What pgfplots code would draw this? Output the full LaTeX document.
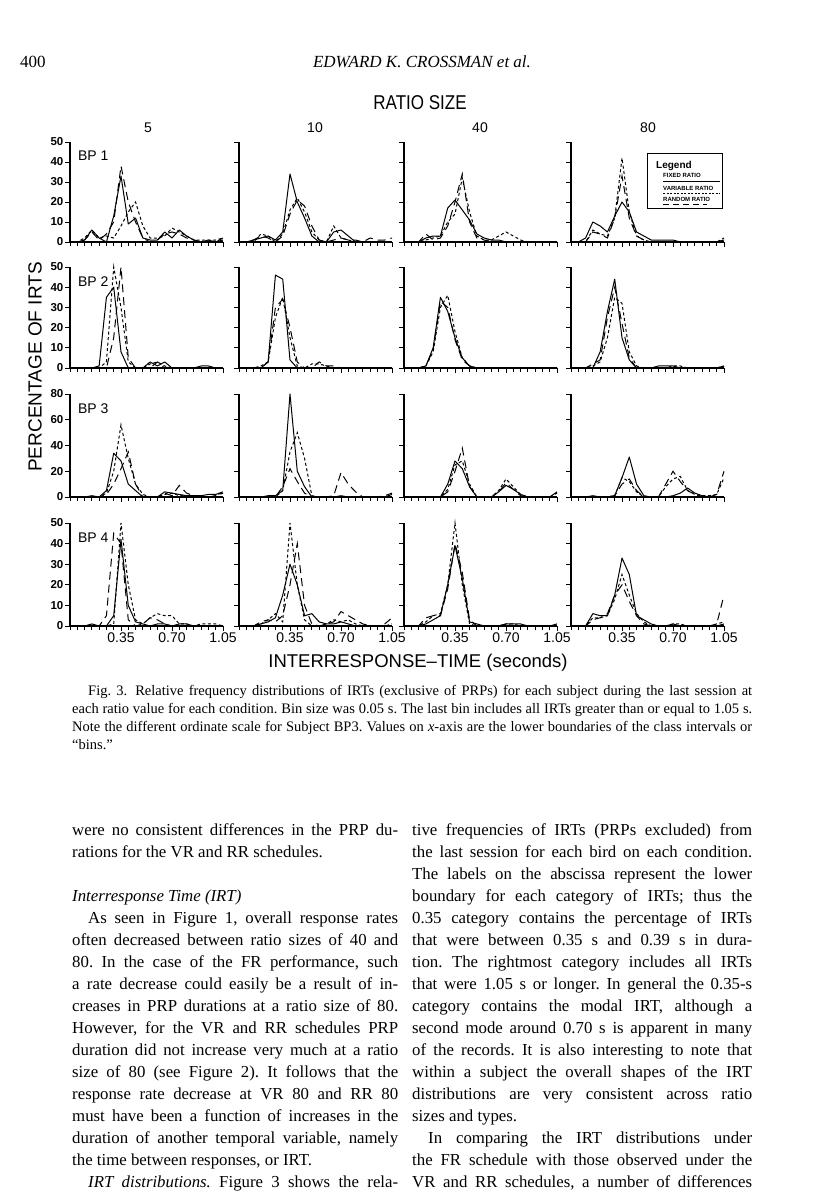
\documentclass[border=0pt]{standalone}
\usepackage{fontspec}
\setmainfont{Liberation Serif}
\newfontfamily\chartfont{Liberation Sans}
\usepackage{graphicx}
\usepackage{pgfplots}
\pgfplotsset{compat=1.18}

% one series of 22 bins (0, 0.05, ..., 1.05 s), values in percent
\newcommand{\ser}[2]{\addplot[#1] table[x expr=\coordindex*0.05, y index=0, header=false, row sep=\\]{#2};}
% justified text line and plain text line, pixel coordinates
\newcommand{\jl}[4]{\node[anchor=base west, inner sep=0pt] at (#1pt,-#2pt) {\frenchspacing\makebox[#3pt][s]{#4}};}
\newcommand{\tl}[3]{\node[anchor=base west, inner sep=0pt] at (#1pt,-#2pt) {\frenchspacing #3};}

\pgfplotsset{
  irt/.style={
    scale only axis, width=153pt, anchor=south west,
    xmin=0, xmax=1.05, ymin=0, enlargelimits=false,
    axis lines=left, axis line style={-, line width=1.1pt},
    xtick={0.35,0.70,1.05}, minor xtick={0,0.05,...,1.06},
    xticklabels={}, yticklabels={},
    tick align=outside, major tick length=5pt, minor tick length=3.5pt,
    tick style={black, line width=0.9pt},
    clip=false,
    xticklabel style={font=\chartfont\fontsize{14}{14}\selectfont, inner sep=2pt},
    yticklabel style={font=\chartfont\bfseries\fontsize{11.5}{11.5}\selectfont, inner sep=1.5pt},
  },
  y50/.style={height=#1, ymax=50, ytick={0,10,...,50}},
  y80/.style={height=#1, ymax=80, ytick={0,20,...,80}},
  lab50/.style={yticklabels={0,10,20,30,40,50}},
  lab80/.style={yticklabels={0,20,40,60,80}},
  labx/.style={xticklabels={0.35,0.70,1.05}},
  fr/.style={black, line width=1pt, solid, line join=round},
  vr/.style={black, line width=1pt, dash pattern=on 3pt off 2.5pt},
  rr/.style={black, line width=1pt, dash pattern=on 8pt off 5pt},
}
\newcommand{\bp}[1]{\node[anchor=west, font=\chartfont\fontsize{14}{14}\selectfont] at (rel axis cs:0.03,0.86) {#1};}

\begin{document}
\begin{tikzpicture}
\path[use as bounding box] (0,0) rectangle (816pt,-1193pt);

% ---------------- row 1: BP 1 ----------------
\begin{axis}[irt, y50=100pt, lab50, at={(70pt,-242pt)}]
\ser{fr}{0\\0\\1\\6\\2\\0\\13\\33\\9\\12\\2\\1\\1\\5\\2\\6\\3\\1\\0\\0\\0\\1\\}
\ser{vr}{0\\0\\2\\6\\2\\3\\2\\8\\15\\20\\8\\2\\2\\3\\7\\5\\3\\1\\1\\1\\1\\2\\}
\ser{rr}{0\\0\\1\\5\\1\\4\\10\\38\\20\\10\\2\\0\\1\\4\\5\\4\\2\\1\\0\\1\\0\\2\\}
\bp{BP 1}
\end{axis}
\begin{axis}[irt, y50=100pt, at={(239pt,-242pt)}]
\ser{fr}{0\\0\\1\\2\\3\\1\\5\\34\\20\\12\\3\\0\\0\\5\\6\\3\\0\\0\\0\\0\\0\\0\\}
\ser{vr}{0\\0\\0\\4\\3\\0\\4\\16\\22\\15\\5\\1\\0\\8\\2\\1\\0\\0\\0\\0\\0\\0\\}
\ser{rr}{0\\0\\1\\3\\2\\0\\3\\14\\21\\18\\8\\1\\0\\1\\2\\1\\1\\0\\2\\1\\1\\2\\}
\end{axis}
\begin{axis}[irt, y50=100pt, at={(404pt,-242pt)}]
\ser{fr}{0\\0\\0\\2\\3\\3\\17\\21\\16\\11\\4\\2\\1\\1\\0\\0\\0\\0\\0\\0\\0\\0\\}
\ser{vr}{0\\0\\0\\1\\2\\3\\10\\14\\32\\15\\3\\1\\1\\3\\5\\3\\1\\0\\0\\0\\0\\0\\}
\ser{rr}{0\\0\\0\\4\\1\\2\\8\\20\\34\\10\\2\\1\\0\\0\\0\\0\\0\\0\\0\\0\\0\\0\\}
\end{axis}
\begin{axis}[irt, y50=100pt, at={(571pt,-242pt)}]
\ser{fr}{0\\0\\2\\10\\8\\5\\13\\20\\15\\5\\3\\1\\1\\1\\1\\0\\0\\0\\0\\0\\0\\1\\}
\ser{vr}{0\\0\\0\\6\\4\\3\\12\\42\\15\\3\\1\\0\\0\\0\\0\\0\\0\\0\\0\\0\\0\\2\\}
\ser{rr}{0\\0\\0\\5\\4\\2\\12\\33\\12\\3\\1\\0\\0\\0\\0\\0\\0\\0\\0\\0\\0\\1\\}
\end{axis}

% ---------------- row 2: BP 2 ----------------
\begin{axis}[irt, y50=101pt, lab50, at={(70pt,-368pt)}]
\ser{fr}{0\\0\\0\\0\\1\\35\\40\\8\\0\\0\\0\\3\\1\\3\\0\\0\\0\\0\\1\\1\\0\\0\\}
\ser{vr}{0\\0\\0\\0\\0\\3\\50\\30\\3\\0\\0\\2\\3\\1\\0\\0\\0\\0\\0\\0\\0\\0\\}
\ser{rr}{0\\0\\0\\0\\0\\0\\15\\50\\5\\0\\0\\0\\3\\0\\0\\0\\0\\0\\0\\0\\0\\0\\}
\bp{BP 2}
\end{axis}
\begin{axis}[irt, y50=101pt, at={(239pt,-368pt)}]
\ser{fr}{0\\0\\0\\0\\3\\46\\44\\4\\0\\0\\0\\0\\0\\0\\0\\0\\0\\0\\0\\0\\0\\0\\}
\ser{vr}{0\\0\\0\\1\\3\\25\\35\\15\\1\\0\\2\\2\\1\\0\\0\\0\\0\\0\\0\\0\\0\\0\\}
\ser{rr}{0\\0\\0\\0\\3\\30\\34\\20\\3\\0\\0\\3\\1\\1\\0\\0\\0\\0\\0\\0\\0\\0\\}
\end{axis}
\begin{axis}[irt, y50=101pt, at={(404pt,-368pt)}]
\ser{fr}{0\\0\\0\\1\\10\\35\\28\\15\\5\\1\\0\\0\\0\\0\\0\\0\\0\\0\\0\\0\\0\\0\\}
\ser{vr}{0\\0\\0\\1\\8\\30\\36\\18\\5\\1\\0\\0\\0\\0\\0\\0\\0\\0\\0\\0\\0\\0\\}
\ser{rr}{0\\0\\0\\1\\9\\33\\30\\14\\4\\1\\0\\0\\0\\0\\0\\0\\0\\0\\0\\0\\0\\0\\}
\end{axis}
\begin{axis}[irt, y50=101pt, at={(571pt,-368pt)}]
\ser{fr}{0\\0\\0\\0\\8\\28\\44\\15\\4\\0\\0\\0\\1\\1\\1\\0\\0\\0\\0\\0\\0\\1\\}
\ser{vr}{0\\0\\0\\1\\3\\15\\35\\32\\8\\1\\0\\0\\0\\0\\1\\1\\0\\0\\0\\0\\0\\1\\}
\ser{rr}{0\\0\\0\\2\\4\\25\\40\\22\\5\\0\\0\\0\\0\\0\\0\\0\\0\\0\\0\\0\\0\\0\\}
\end{axis}

% ---------------- row 3: BP 3 (0-80 scale) ----------------
\begin{axis}[irt, y80=103pt, lab80, at={(70pt,-497pt)}]
\ser{fr}{0\\0\\0\\1\\0\\5\\34\\28\\10\\5\\0\\0\\0\\4\\3\\2\\1\\1\\1\\2\\2\\4\\}
\ser{vr}{0\\0\\0\\0\\0\\3\\20\\56\\30\\10\\2\\0\\0\\2\\3\\1\\1\\0\\0\\0\\1\\4\\}
\ser{rr}{0\\0\\0\\0\\0\\2\\10\\22\\35\\10\\0\\0\\0\\3\\1\\9\\3\\1\\0\\0\\1\\3\\}
\bp{BP 3}
\end{axis}
\begin{axis}[irt, y80=103pt, at={(239pt,-497pt)}]
\ser{fr}{0\\0\\0\\0\\1\\1\\5\\80\\20\\8\\0\\0\\0\\0\\1\\0\\0\\0\\0\\0\\0\\2\\}
\ser{vr}{0\\0\\0\\0\\0\\0\\5\\35\\50\\30\\1\\0\\0\\0\\0\\0\\0\\0\\0\\0\\0\\0\\}
\ser{rr}{0\\0\\0\\0\\0\\0\\8\\22\\12\\3\\0\\0\\0\\1\\19\\10\\4\\0\\0\\0\\1\\3\\}
\end{axis}
\begin{axis}[irt, y80=103pt, at={(404pt,-497pt)}]
\ser{fr}{0\\0\\0\\0\\0\\0\\10\\28\\22\\8\\0\\0\\0\\4\\9\\6\\2\\0\\0\\0\\0\\4\\}
\ser{vr}{0\\0\\0\\0\\0\\0\\6\\25\\28\\10\\0\\0\\0\\5\\14\\8\\2\\0\\0\\0\\0\\3\\}
\ser{rr}{0\\0\\0\\0\\0\\0\\4\\20\\38\\8\\0\\0\\0\\4\\11\\6\\1\\0\\0\\0\\0\\3\\}
\end{axis}
\begin{axis}[irt, y80=103pt, at={(571pt,-497pt)}]
\ser{fr}{0\\0\\0\\1\\0\\0\\1\\15\\31\\10\\1\\0\\0\\0\\1\\3\\7\\3\\1\\0\\0\\0\\}
\ser{vr}{0\\0\\0\\0\\0\\0\\1\\15\\12\\4\\0\\0\\0\\8\\14\\16\\5\\2\\1\\1\\2\\15\\}
\ser{rr}{0\\0\\0\\0\\0\\0\\1\\10\\14\\5\\0\\0\\0\\10\\20\\12\\5\\2\\0\\0\\2\\20\\}
\end{axis}

% ---------------- row 4: BP 4 ----------------
\begin{axis}[irt, y50=103pt, lab50, labx, at={(70pt,-626pt)}]
\ser{fr}{0\\0\\0\\1\\0\\0\\5\\42\\10\\2\\1\\0\\1\\1\\0\\1\\1\\0\\0\\0\\0\\0\\}
\ser{vr}{0\\0\\0\\0\\0\\0\\1\\50\\20\\3\\1\\4\\6\\5\\5\\1\\1\\0\\1\\1\\1\\0\\}
\ser{rr}{0\\0\\0\\0\\0\\5\\45\\40\\3\\0\\1\\4\\3\\1\\0\\0\\0\\0\\0\\0\\0\\0\\}
\bp{BP 4}
\end{axis}
\begin{axis}[irt, y50=103pt, labx, at={(239pt,-626pt)}]
\ser{fr}{0\\0\\0\\1\\2\\4\\15\\30\\20\\5\\6\\2\\1\\1\\2\\1\\0\\0\\0\\0\\0\\0\\}
\ser{vr}{0\\0\\0\\1\\3\\6\\2\\50\\20\\3\\0\\0\\1\\3\\2\\3\\1\\0\\0\\0\\0\\1\\}
\ser{rr}{0\\0\\0\\2\\3\\2\\5\\20\\40\\10\\1\\0\\1\\2\\7\\5\\3\\1\\0\\0\\1\\4\\}
\end{axis}
\begin{axis}[irt, y50=103pt, labx, at={(404pt,-626pt)}]
\ser{fr}{0\\0\\0\\1\\3\\5\\20\\39\\23\\2\\1\\0\\0\\0\\1\\1\\1\\0\\0\\0\\0\\1\\}
\ser{vr}{0\\0\\0\\2\\5\\6\\20\\50\\20\\1\\0\\0\\0\\0\\1\\1\\0\\0\\0\\0\\0\\0\\}
\ser{rr}{0\\0\\0\\4\\5\\5\\18\\40\\26\\3\\0\\0\\0\\0\\1\\0\\0\\0\\0\\0\\0\\0\\}
\end{axis}
\begin{axis}[irt, y50=103pt, labx, at={(571pt,-626pt)}]
\ser{fr}{0\\0\\0\\6\\5\\5\\15\\33\\25\\5\\3\\1\\0\\0\\1\\0\\0\\0\\0\\0\\0\\1\\}
\ser{vr}{0\\0\\0\\4\\4\\5\\13\\25\\15\\6\\2\\0\\0\\0\\1\\1\\0\\0\\0\\0\\1\\2\\}
\ser{rr}{0\\0\\0\\3\\4\\6\\15\\20\\12\\5\\1\\0\\0\\0\\0\\0\\0\\0\\0\\0\\1\\15\\}
\end{axis}

% ---------------- figure labels ----------------
\begin{scope}[every node/.style={font=\chartfont}]
\node[font=\chartfont\fontsize{20}{20}\selectfont] at (420pt,-103pt) {\scalebox{0.85}[1]{RATIO SIZE}};
\node[font=\chartfont\fontsize{14}{14}\selectfont] at (148pt,-128pt) {5};
\node[font=\chartfont\fontsize{14}{14}\selectfont] at (315pt,-128pt) {10};
\node[font=\chartfont\fontsize{14}{14}\selectfont] at (480pt,-128pt) {40};
\node[font=\chartfont\fontsize{14}{14}\selectfont] at (648pt,-128pt) {80};
\node[font=\chartfont\fontsize{19}{19}\selectfont, rotate=90] at (35pt,-367pt) {PERCENTAGE OF IRTS};
\node[font=\chartfont\fontsize{18.5}{18.5}\selectfont] at (418pt,-663pt) {INTERRESPONSE\textendash TIME (seconds)};
% legend box
\draw[line width=0.9pt] (647pt,-153pt) rectangle (722pt,-208pt);
\node[anchor=base west, inner sep=0pt, font=\chartfont\bfseries\fontsize{10}{10}\selectfont] at (656pt,-168pt) {Legend};
\node[anchor=base west, inner sep=0pt, font=\chartfont\bfseries\fontsize{6}{6}\selectfont] at (663pt,-178pt) {FIXED RATIO};
\node[anchor=base west, inner sep=0pt, font=\chartfont\bfseries\fontsize{6}{6}\selectfont] at (663pt,-190pt) {VARIABLE RATIO};
\node[anchor=base west, inner sep=0pt, font=\chartfont\bfseries\fontsize{6}{6}\selectfont] at (663pt,-201pt) {RANDOM RATIO};
\draw[line width=0.7pt] (663pt,-181pt) -- (720pt,-181pt);
\draw[line width=0.7pt, dash pattern=on 2pt off 1.5pt] (663pt,-193pt) -- (720pt,-193pt);
\draw[line width=0.7pt, dash pattern=on 6pt off 4pt] (663pt,-204pt) -- (707pt,-204pt);
\end{scope}

% ---------------- page header ----------------
\node[anchor=base west, inner sep=0pt, font=\fontsize{17}{17}\selectfont] at (20pt,-68pt) {400};
\node[anchor=base, inner sep=0pt, font=\itshape\fontsize{17}{17}\selectfont] at (422pt,-68pt) {EDWARD K. CROSSMAN et al.};

% ---------------- caption ----------------
\begin{scope}[font=\fontsize{14.5}{14.5}\selectfont]
\jl{88}{695}{664}{Fig.~3.\hspace{8pt}Relative frequency distributions of IRTs (exclusive of PRPs) for each subject during the last session at}
\jl{72}{713}{680}{each ratio value for each condition. Bin size was 0.05 s. The last bin includes all IRTs greater than or equal to 1.05 s.}
\jl{72}{731}{680}{Note the different ordinate scale for Subject BP3. Values on \textit{x}-axis are the lower boundaries of the class intervals or}
\tl{72}{749}{``bins.''}
\end{scope}

% ---------------- body text ----------------
\begin{scope}[font=\fontsize{16.8}{16.8}\selectfont]
\jl{72}{835}{326}{were no consistent differences in the PRP du-}
\tl{72}{857}{rations for the VR and RR schedules.}
\tl{72}{901}{\textit{Interresponse Time (IRT)}}
\jl{72}{923}{326}{\hspace{16pt}As seen in Figure 1, overall response rates}
\jl{72}{945}{326}{often decreased between ratio sizes of 40 and}
\jl{72}{967}{326}{80. In the case of the FR performance, such}
\jl{72}{989}{326}{a rate decrease could easily be a result of in-}
\jl{72}{1011}{326}{creases in PRP durations at a ratio size of 80.}
\jl{72}{1033}{326}{However, for the VR and RR schedules PRP}
\jl{72}{1055}{326}{duration did not increase very much at a ratio}
\jl{72}{1077}{326}{size of 80 (see Figure 2). It follows that the}
\jl{72}{1099}{326}{response rate decrease at VR 80 and RR 80}
\jl{72}{1121}{326}{must have been a function of increases in the}
\jl{72}{1143}{326}{duration of another temporal variable, namely}
\tl{72}{1165}{the time between responses, or IRT.}
\jl{72}{1187}{326}{\hspace{16pt}\textit{IRT distributions.} Figure 3 shows the rela-}

\jl{412}{835}{340}{tive frequencies of IRTs (PRPs excluded) from}
\jl{412}{857}{340}{the last session for each bird on each condition.}
\jl{412}{879}{340}{The labels on the abscissa represent the lower}
\jl{412}{901}{340}{boundary for each category of IRTs; thus the}
\jl{412}{923}{340}{0.35 category contains the percentage of IRTs}
\jl{412}{945}{340}{that were between 0.35 s and 0.39 s in dura-}
\jl{412}{967}{340}{tion. The rightmost category includes all IRTs}
\jl{412}{989}{340}{that were 1.05 s or longer. In general the 0.35-s}
\jl{412}{1011}{340}{category contains the modal IRT, although a}
\jl{412}{1033}{340}{second mode around 0.70 s is apparent in many}
\jl{412}{1055}{340}{of the records. It is also interesting to note that}
\jl{412}{1077}{340}{within a subject the overall shapes of the IRT}
\jl{412}{1099}{340}{distributions are very consistent across ratio}
\tl{412}{1121}{sizes and types.}
\jl{412}{1143}{340}{\hspace{16pt}In comparing the IRT distributions under}
\jl{412}{1165}{340}{the FR schedule with those observed under the}
\jl{412}{1187}{340}{VR and RR schedules, a number of differences}
\end{scope}
\end{tikzpicture}
\end{document}
